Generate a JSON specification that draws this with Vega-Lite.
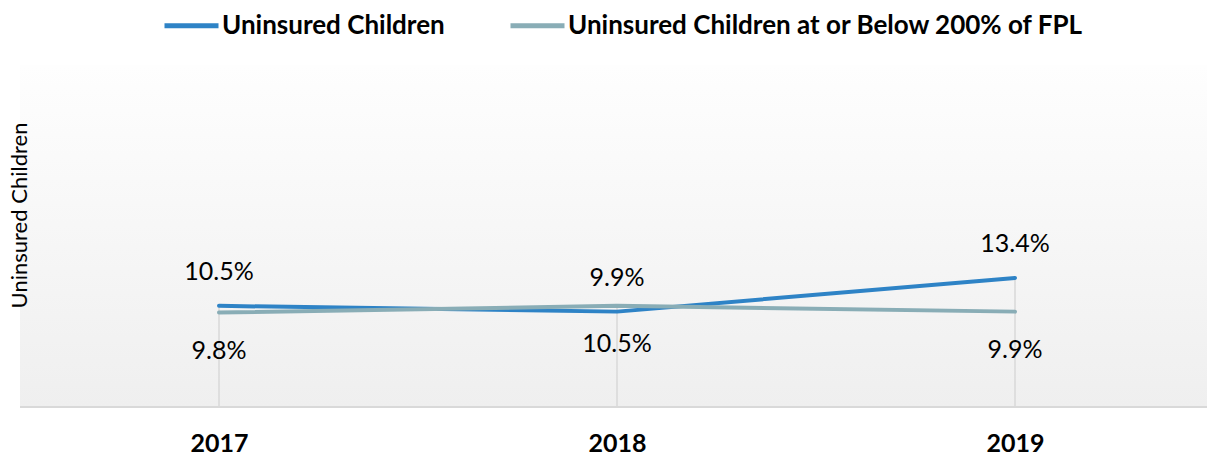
{
  "$schema": "https://vega.github.io/schema/vega-lite/v6.json",
  "width": 1187,
  "height": 342,
  "autosize": {"type": "none"},
  "padding": {"left": 20, "top": 65, "right": 0, "bottom": 50},
  "background": "white",
  "config": {
    "font": "Lato",
    "view": {
      "stroke": null,
      "fill": {
        "gradient": "linear",
        "x1": 0, "y1": 0, "x2": 0, "y2": 1,
        "stops": [
          {"offset": 0, "color": "#fefefe"},
          {"offset": 1, "color": "#efefef"}
        ]
      }
    }
  },
  "data": {
    "values": [
      {"year": "2017", "series": "Uninsured Children", "value": 10.5, "label": "10.5%"},
      {"year": "2018", "series": "Uninsured Children", "value": 9.9, "label": "9.9%"},
      {"year": "2019", "series": "Uninsured Children", "value": 13.4, "label": "13.4%"},
      {"year": "2017", "series": "Uninsured Children at or Below 200% of FPL", "value": 9.8, "label": "9.8%"},
      {"year": "2018", "series": "Uninsured Children at or Below 200% of FPL", "value": 10.5, "label": "10.5%"},
      {"year": "2019", "series": "Uninsured Children at or Below 200% of FPL", "value": 9.9, "label": "9.9%"}
    ]
  },
  "layer": [
    {
      "mark": {"type": "rule", "color": "#d9d9d9", "strokeWidth": 2},
      "encoding": {
        "y": {"datum": 0, "type": "quantitative"}
      }
    },
    {
      "mark": {"type": "rule", "color": "#d9d9d9", "strokeWidth": 1.5},
      "encoding": {
        "x": {
          "field": "year",
          "type": "ordinal",
          "scale": {"type": "point", "range": [199, 995], "padding": 0},
          "axis": {
            "title": null,
            "labelAngle": 0,
            "labelFontSize": 25,
            "labelFontWeight": "bold",
            "labelColor": "#000000",
            "labelPadding": 24,
            "ticks": false,
            "grid": false,
            "domain": false
          }
        },
        "y": {"aggregate": "max", "field": "value", "type": "quantitative"},
        "y2": {"datum": 0}
      }
    },
    {
      "mark": {"type": "line", "strokeWidth": 4, "strokeCap": "round", "strokeJoin": "round"},
      "encoding": {
        "x": {"field": "year", "type": "ordinal"},
        "y": {
          "field": "value",
          "type": "quantitative",
          "scale": {"domain": [0, 35.5], "nice": false, "zero": true},
          "axis": {
            "title": "Uninsured Children",
            "titleFontSize": 22,
            "titleFontWeight": "normal",
            "titleColor": "#000000",
            "titleX": 6,
            "titleY": 150,
            "titleAngle": -90,
            "titleAlign": "center",
            "titleBaseline": "alphabetic",
            "labels": false,
            "ticks": false,
            "domain": false,
            "grid": false
          }
        },
        "color": {
          "field": "series",
          "type": "nominal",
          "scale": {
            "domain": ["Uninsured Children", "Uninsured Children at or Below 200% of FPL"],
            "range": ["#2e83c6", "#89adb6"]
          },
          "legend": {
            "orient": "none",
            "legendX": 142,
            "legendY": -69,
            "direction": "horizontal",
            "title": null,
            "padding": 0,
            "labelFontSize": 26,
            "labelFontWeight": "bold",
            "labelColor": "#000000",
            "labelOffset": 1,
            "labelLimit": 0,
            "symbolType": "stroke",
            "symbolStrokeWidth": 5,
            "symbolSize": 2916,
            "columnPadding": 55
          }
        }
      }
    },
    {
      "transform": [{"filter": "datum.series === 'Uninsured Children'"}],
      "mark": {"type": "text", "dy": -34, "fontSize": 25, "baseline": "middle", "color": "#000000"},
      "encoding": {
        "x": {"field": "year", "type": "ordinal"},
        "y": {"field": "value", "type": "quantitative"},
        "text": {"field": "label"}
      }
    },
    {
      "transform": [{"filter": "datum.series !== 'Uninsured Children'"}],
      "mark": {"type": "text", "dy": 38, "fontSize": 25, "baseline": "middle", "color": "#000000"},
      "encoding": {
        "x": {"field": "year", "type": "ordinal"},
        "y": {"field": "value", "type": "quantitative"},
        "text": {"field": "label"}
      }
    }
  ]
}
